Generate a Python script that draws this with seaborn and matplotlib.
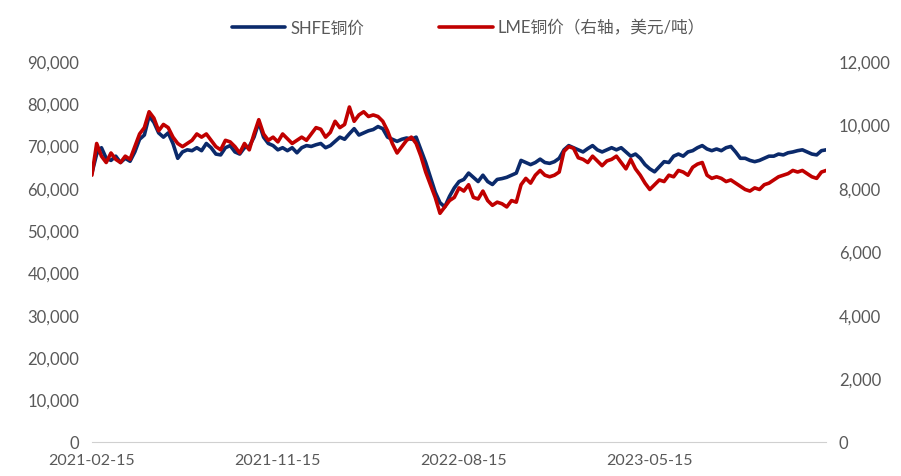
import pandas as pd
import numpy as np
import matplotlib
matplotlib.use("Agg")
import matplotlib.pyplot as plt
import matplotlib.dates as mdates
from matplotlib.ticker import FuncFormatter
import seaborn as sns

# weekly samples, starting 2021-02-15
start_date = "2021-02-15"
shfe = [63500, 68000, 69500, 67000, 66500, 67500, 66000, 67000, 66300, 68500,
        71500, 72500, 77000, 75500, 73000, 72000, 73000, 70500, 67000, 68500,
        69000, 68800, 69500, 68800, 70500, 69500, 68000, 67800, 69500, 70000,
        68500, 68000, 69500, 69800, 72000, 75500, 72000, 70500, 70000, 69000,
        69500, 68800, 69500, 68300, 69500, 70000, 69800, 70200, 70500, 69500,
        70000, 71000, 72000, 71500, 72800, 74000, 72500, 73000, 73500, 73800,
        74500, 74000, 72000, 71500, 71000, 71500, 71800, 71500, 72000, 69000,
        66000, 62500, 59000, 56500, 55500, 58000, 60000, 61500, 62000, 63500,
        62500, 61500, 63000, 61500, 60800, 62000, 62200, 62500, 63000, 63500,
        66500, 66000, 65500, 66000, 66800, 66000, 65800, 66200, 67000, 69000,
        70000, 69500, 69000, 68500, 69300, 70000, 69000, 68500, 69000, 69500,
        69000, 69500, 68500, 67500, 68000, 67000, 65500, 64500, 63800, 65000,
        66200, 66000, 67500, 68000, 67500, 68500, 68800, 69500, 70000, 69200,
        68800, 69200, 68800, 69500, 69800, 68500, 67000, 67000, 66500, 66200,
        66500, 67000, 67500, 67500, 68000, 67800, 68300, 68500, 68800, 69000,
        68500, 68000, 67800, 68800, 69000]
lme = [8400, 9400, 9000, 8800, 9100, 8900, 8800, 9000, 8900, 9300,
       9700, 9900, 10400, 10200, 9800, 10000, 9900, 9600, 9400, 9300,
       9400, 9500, 9700, 9600, 9700, 9500, 9300, 9200, 9500, 9450,
       9300, 9100, 9400, 9200, 9700, 10150, 9700, 9500, 9600, 9450,
       9700, 9550, 9400, 9500, 9600, 9500, 9700, 9900, 9850, 9600,
       9750, 10100, 9900, 10000, 10550, 10100, 10300, 10400, 10250, 10300,
       10250, 10100, 9800, 9400, 9100, 9300, 9500, 9600, 9400, 9000,
       8500, 8100, 7700, 7200, 7400, 7600, 7700, 8000, 7900, 8100,
       7700, 7650, 7900, 7600, 7450, 7550, 7500, 7400, 7600, 7550,
       8100, 8300, 8150, 8400, 8550, 8400, 8350, 8400, 8500, 9150,
       9300, 9250, 8950, 8900, 8800, 9000, 8850, 8700, 8850, 8900,
       9000, 8800, 8600, 8900, 8600, 8400, 8150, 7950, 8100, 8250,
       8200, 8400, 8350, 8550, 8500, 8400, 8650, 8750, 8800, 8400,
       8300, 8350, 8300, 8200, 8250, 8150, 8050, 7950, 7900, 8000,
       7950, 8100, 8150, 8250, 8350, 8400, 8450, 8550, 8500, 8550,
       8450, 8350, 8300, 8500, 8550]
tick_dates = ["2021-02-15", "2021-11-15", "2022-08-15", "2023-05-15"]
label_shfe = "SHFE铜价"
label_lme = "LME铜价（右轴，美元/吨）"

df = pd.DataFrame({
    "date": pd.date_range(start_date, periods=len(shfe), freq="7D"),
    "shfe": shfe,
    "lme": lme,
})

sns.set_style("white")
plt.rcParams["font.family"] = ["Lato", "Noto Sans CJK SC", "DejaVu Sans"]

grey = "#595959"
fig = plt.figure(figsize=(9.01, 4.77), dpi=100)
ax = fig.add_axes([0.102, 0.072, 0.815, 0.798])
ax2 = ax.twinx()

sns.lineplot(data=df, x="date", y="shfe", ax=ax, color="#0B2A6B", lw=2.6, label=label_shfe, legend=False)
sns.lineplot(data=df, x="date", y="lme", ax=ax2, color="#C00000", lw=2.6, label=label_lme, legend=False)

ax.set_ylim(0, 90000)
ax2.set_ylim(0, 12000)
ax.set_yticks(np.arange(0, 90001, 10000))
ax2.set_yticks(np.arange(0, 12001, 2000))
fmt = FuncFormatter(lambda v, p: f"{int(v):,}")
ax.yaxis.set_major_formatter(fmt)
ax2.yaxis.set_major_formatter(fmt)
ax.set_xlim(df["date"].iloc[0], df["date"].iloc[-1])
ax.set_xticks(pd.to_datetime(tick_dates))
ax.xaxis.set_major_formatter(mdates.DateFormatter("%Y-%m-%d"))

for a in (ax, ax2):
    a.set_xlabel("")
    a.set_ylabel("")
    for s in a.spines.values():
        s.set_visible(False)
    a.tick_params(axis="y", length=0, labelsize=12, labelcolor=grey, pad=9)
ax.spines["bottom"].set_visible(True)
ax.spines["bottom"].set_color("#d0d0d0")
ax.tick_params(axis="x", direction="in", length=4, color="#d0d0d0", labelsize=11.5, labelcolor=grey, pad=8)

h1, l1 = ax.get_legend_handles_labels()
h2, l2 = ax2.get_legend_handles_labels()
fig.legend(h1 + h2, l1 + l2, loc="center", bbox_to_anchor=(0.52, 0.94), ncol=2, frameon=False,
           fontsize=12, labelcolor=grey, handlelength=3.2, columnspacing=4.5, handletextpad=0.3)

fig.savefig("out.png", dpi=100)
